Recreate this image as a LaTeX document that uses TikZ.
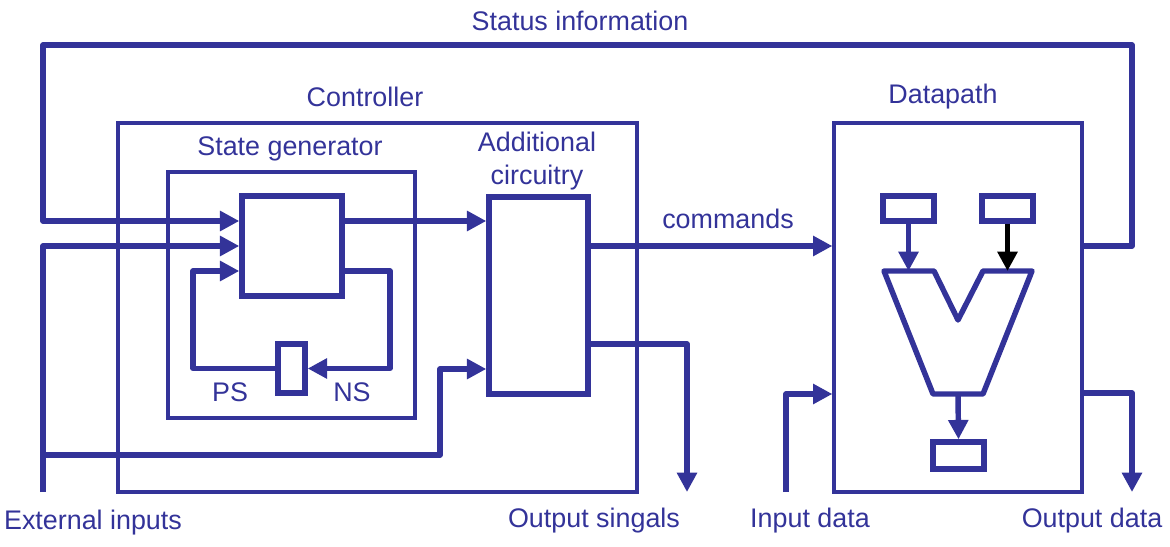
\documentclass[tikz,border=0pt]{standalone}
\usepackage{fontspec}
\setmainfont{Liberation Sans}
\usetikzlibrary{arrows.meta}
\definecolor{ink}{RGB}{51,51,153}

\begin{document}
\begin{tikzpicture}[x=0.02cm,y=-0.02cm]
    \tikzstyle{label}=[text=ink, font=\fontsize{15.3}{18.7}\selectfont, inner sep=0pt]
    \tikzstyle{frame}=[draw=ink, line width=1.9pt, inner sep=0pt]
    \tikzstyle{block}=[draw=ink, line width=3.1pt, inner sep=0pt]
    \tikzstyle{wire}=[ink, line width=3.1pt, line join=round]
    \tikzstyle{arr}=[wire, -{Triangle[length=11pt,width=11pt]}]
    \useasboundingbox (0,0) rectangle (1170,547);

    % controller side
    \node[frame, minimum width=10.38cm, minimum height=7.38cm] (ctrl) at (377.5,307.5) {};
    \node[frame, minimum width=4.94cm, minimum height=4.92cm] (sg) at (291.5,295) {};
    \node[block, minimum width=2cm, minimum height=2cm] (state) at (292,246) {};
    \node[block, minimum width=0.54cm, minimum height=0.98cm] (reg) at (291.5,368.5) {};
    \node[block, minimum width=1.98cm, minimum height=3.94cm] (addl) at (538.5,295.5) {};

    % datapath side
    \node[frame, minimum width=4.96cm, minimum height=7.38cm] (dp) at (958,307.5) {};
    \node[block, minimum width=1.02cm, minimum height=0.5cm] (ra) at (908.5,208.5) {};
    \node[block, minimum width=1.02cm, minimum height=0.5cm] (rb) at (1007.5,208.5) {};
    \node[block, minimum width=1.02cm, minimum height=0.54cm] (rc) at (958.5,455.5) {};
    \draw[wire] (884,271) -- (934,271) -- (958,320) -- (983,271) -- (1032,271)
                -- (983,394) -- (933,394) -- cycle;

    % turning points
    \coordinate (top) at (0,45);
    \coordinate (stR) at (1132,246);
    \coordinate (stL) at (43,221);
    \coordinate (ext) at (43,492);
    \coordinate (ext2) at (43,455);
    \coordinate (ext2b) at (440,369);
    \coordinate (fbR) at (390,271);
    \coordinate (fbL) at (193,271);
    \coordinate (osT) at (687,344);
    \coordinate (os) at (687,492);
    \coordinate (idB) at (786,492);
    \coordinate (idT) at (786,394);
    \coordinate (odT) at (1132,393);
    \coordinate (odB) at (1132,492);
    \coordinate (aluT) at (0,271);
    \coordinate (aluB) at (958,394);

    % connectors
    \draw[arr] (dp.east |- stR) -- (stR) -- (stR |- top) -- (stL |- top) -- (stL) -- (state.west |- stL);
    \draw[arr] (ext) |- (state.west);
    \draw[arr] (ext2) -| (ext2b) -- (addl.west |- ext2b);
    \draw[arr] (state.east |- fbR) -- (fbR) |- (reg.east);
    \draw[arr] (reg.west) -| (fbL) -- (state.west |- fbL);
    \draw[arr] (state.east |- stL) -- (addl.west |- stL);
    \draw[arr] (addl.east |- state.east) -- (dp.west |- state.east);
    \draw[arr] (addl.east |- osT) -- (osT) -- (os);
    \draw[arr] (idB) -- (idT) -- (dp.west |- idT);
    \draw[arr] (dp.east |- odT) -- (odT) -- (odB);
    \draw[arr] (ra.south) -- (ra.south |- aluT);
    \draw[arr, black] (rb.south) -- (rb.south |- aluT);
    \draw[arr] (aluB) -- (rc.north);

    % texts
    \node[label] (lstatus) at (580,21) {Status information};
    \node[label] (lctrl) at (365,97) {Controller};
    \node[label] (lsg) at (290,149) {State generator};
    \node[label, align=center] (laddl) at (537,161) {Additional\\circuitry};
    \node[label] (lps) at (230,392) {PS};
    \node[label] (lns) at (352,392) {NS};
    \node[label] (lcmd) at (728,219) {commands};
    \node[label] (ldp) at (943,97) {Datapath};
    \node[label] (lext) at (93,523) {External inputs};
    \node[label] (los) at (594,521) {Output singals};
    \node[label] (lid) at (810,521) {Input data};
    \node[label] (lod) at (1092,521) {Output data};

\end{tikzpicture}
\end{document}
